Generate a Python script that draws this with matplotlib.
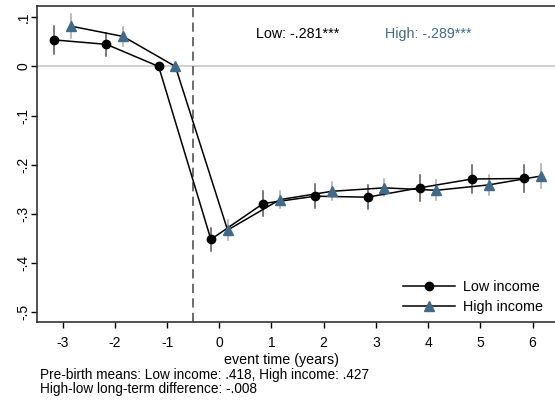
import matplotlib
matplotlib.use("Agg")
import matplotlib.pyplot as plt
import numpy as np

plt.rcParams['font.family'] = ['Liberation Sans', 'DejaVu Sans']

# event time and estimates
event_time = [-3, -2, -1, 0, 1, 2, 3, 4, 5, 6]
low_coef = [0.054, 0.045, 0.0, -0.352, -0.279, -0.264, -0.266, -0.247, -0.229, -0.228]
low_ci = [0.028, 0.024, 0.0, 0.024, 0.025, 0.024, 0.025, 0.026, 0.029, 0.027]
high_coef = [0.082, 0.061, 0.0, -0.333, -0.271, -0.254, -0.247, -0.252, -0.241, -0.223]
high_ci = [0.024, 0.019, 0.0, 0.021, 0.017, 0.018, 0.017, 0.020, 0.020, 0.024]

y_ticks = [0.1, 0, -0.1, -0.2, -0.3, -0.4, -0.5]
y_labels = ['.1', '0', '-.1', '-.2', '-.3', '-.4', '-.5']
x_ticks = [-3, -2, -1, 0, 1, 2, 3, 4, 5, 6]

high_color = '#3f6a8a'

fig = plt.figure(figsize=(5.55, 4.01), dpi=100)
ax = fig.add_axes([37 / 555, 1 - 322 / 401, 1 - 37 / 555, (322 - 6) / 401])

t = np.array(event_time, dtype=float)
ax.axhline(0, color='#c8c8c8', lw=1.2, zorder=1)
ax.axvline(-0.5, color='#444444', lw=1.1, ls=(0, (6, 3.5)), zorder=1)

# error bars (skip the reference period)
for i in range(len(t)):
    if low_ci[i] > 0:
        ax.plot([t[i] - 0.16] * 2, [low_coef[i] - low_ci[i], low_coef[i] + low_ci[i]],
                color='#555555', lw=1.1, zorder=2)
    if high_ci[i] > 0:
        ax.plot([t[i] + 0.16] * 2, [high_coef[i] - high_ci[i], high_coef[i] + high_ci[i]],
                color='#a8a8a8', lw=1.1, zorder=2)

ax.plot(t - 0.16, low_coef, color='black', lw=1.1, marker='o', ms=6,
        mfc='black', mec='black', label='Low income', zorder=3)
ax.plot(t + 0.16, high_coef, color='black', lw=1.1, marker='^', ms=7,
        mfc=high_color, mec=high_color, label='High income', zorder=3)

ax.set_xlim(-3.49, 6.43)
ax.set_ylim(-0.52, 0.123)
ax.set_xticks(x_ticks)
ax.set_xticklabels([str(v) for v in x_ticks])
ax.set_yticks(y_ticks)
ax.set_yticklabels(y_labels, rotation=90, va='center')
ax.tick_params(direction='out', length=4, width=1, labelsize=10, colors='black')
ax.tick_params(axis='y', pad=0.5)
ax.tick_params(axis='x', pad=6)
ax.spines['right'].set_visible(False)
for s in ['left', 'bottom', 'top']:
    ax.spines[s].set_color('#333333')
    ax.spines[s].set_linewidth(1.2)

fig.text(281 / 555, 1 - 360 / 401, 'event time (years)', ha='center', va='center', fontsize=10.3)

fig.text(256 / 555, 1 - 34 / 401, 'Low: -.281***', fontsize=10.3, va='center', ha='left')
fig.text(385 / 555, 1 - 34 / 401, 'High: -.289***', fontsize=10.3, va='center', ha='left',
         color=high_color)

ax.legend(loc='lower right', bbox_to_anchor=(1.0, -0.012),
          frameon=False, fontsize=10.4, handlelength=3.6, handletextpad=0.6,
          labelspacing=0.4, borderaxespad=0.4)

fig.text(40 / 555, 1 - 375 / 401, 'Pre-birth means: Low income: .418, High income: .427',
         fontsize=9.8, va='center', ha='left')
fig.text(40 / 555, 1 - 389 / 401, 'High-low long-term difference: -.008',
         fontsize=9.8, va='center', ha='left')

fig.savefig('out.png', dpi=100)
